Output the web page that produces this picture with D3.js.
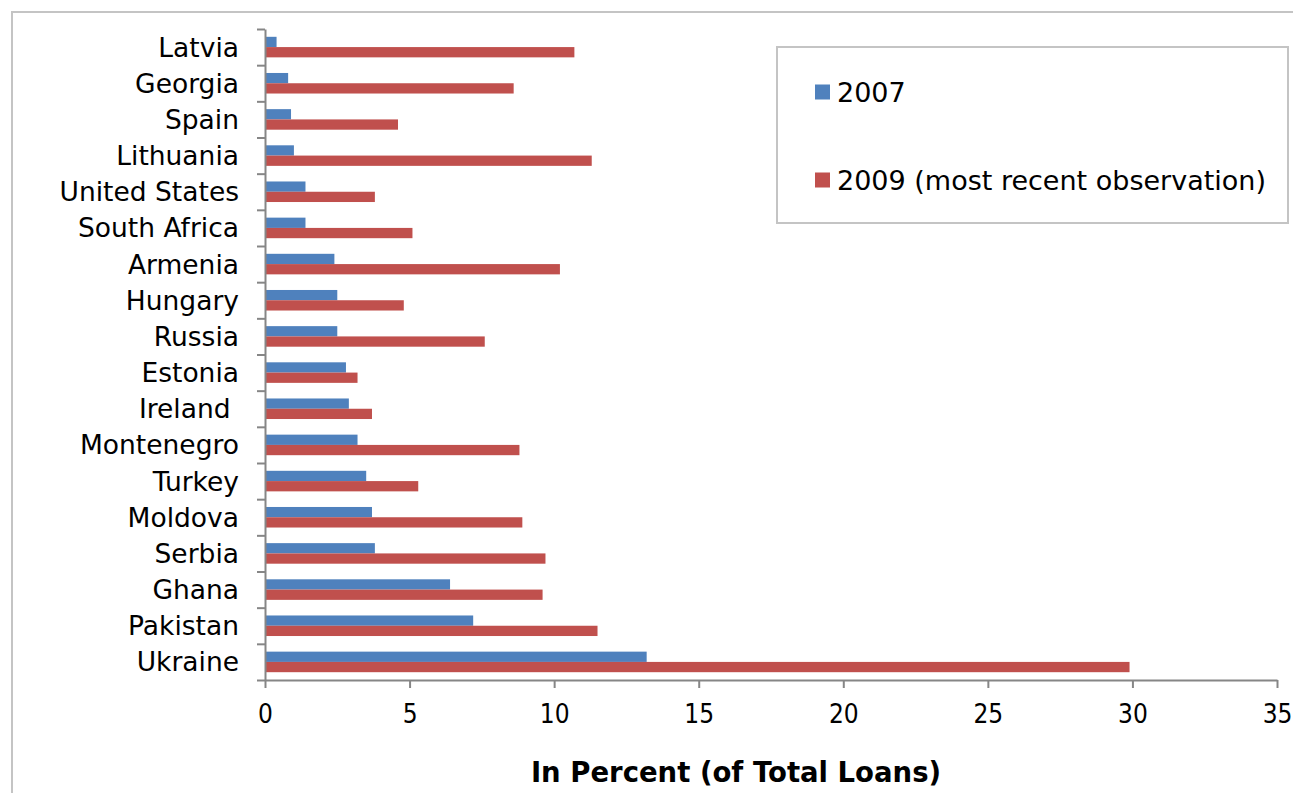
<!DOCTYPE html>
<html>
<head>
<meta charset="utf-8">
<script src="https://cdn.jsdelivr.net/npm/d3@7"></script>
<style>
body { margin: 0; background: #fff; }
svg { display: block; font-family: "DejaVu Sans", Verdana, sans-serif; }
.axis path, .axis line { stroke: #868686; stroke-width: 2px; }
.xaxis text { font-family: "DejaVu Sans Condensed", "DejaVu Sans", sans-serif; font-size: 26px; fill: #000; }
.cat { font-size: 26.5px; fill: #000; }
.legend text { font-size: 27px; fill: #000; }
.title { font-size: 27.5px; font-weight: bold; fill: #000; }
</style>
</head>
<body>
<svg width="1293" height="793"></svg>
<script>

var countries = ["Latvia", "Georgia", "Spain", "Lithuania", "United States", "South Africa",
	"Armenia", "Hungary", "Russia", "Estonia", "Ireland ", "Montenegro", "Turkey",
	"Moldova", "Serbia", "Ghana", "Pakistan", "Ukraine"];
var values2007 = [0.4, 0.8, 0.9, 1.0, 1.4, 1.4, 2.4, 2.5, 2.5, 2.8, 2.9, 3.2, 3.5, 3.7, 3.8, 6.4, 7.2, 13.2];
var values2009 = [10.7, 8.6, 4.6, 11.3, 3.8, 5.1, 10.2, 4.8, 7.6, 3.2, 3.7, 8.8, 5.3, 8.9, 9.7, 9.6, 11.5, 29.9];
var seriesNames = ["2007", "2009 (most recent observation)"];
var seriesColors = ["#4f81bd", "#c0504d"];
var xTicks = [0, 5, 10, 15, 20, 25, 30, 35];

var svg = d3.select("svg");

var plotLeft = 265, plotRight = 1277, plotTop = 29, plotBottom = 680;

// outer chart border
svg.append("rect")
	.attr("x", 12).attr("y", 12)
	.attr("width", 1320).attr("height", 820)
	.attr("fill", "none")
	.attr("stroke", "#c4c4c4")
	.attr("stroke-width", 2);

var x = d3.scaleLinear().domain([0, 35]).range([plotLeft, plotRight]);

var y0 = d3.scaleBand().domain(countries).range([plotTop, plotBottom]).padding(0);
var y1 = d3.scaleBand().domain(seriesNames).range([0, y0.bandwidth()]).paddingInner(0).paddingOuter(0.76);

var rows = countries.map(function(c, i) {
	return {name: c, vals: [values2007[i], values2009[i]]};
});

var g = svg.append("g").attr("class", "bars");
var rowG = g.selectAll("g")
	.data(rows)
	.enter().append("g")
	.attr("transform", function(d) { return "translate(0," + y0(d.name) + ")"; });

rowG.selectAll("rect")
	.data(function(d) { return d.vals.map(function(v, k) { return {s: seriesNames[k], v: v, k: k}; }); })
	.enter().append("rect")
	.attr("x", x(0))
	.attr("y", function(d) { return y1(d.s); })
	.attr("width", function(d) { return x(d.v) - x(0); })
	.attr("height", y1.bandwidth())
	.attr("fill", function(d) { return seriesColors[d.k]; });

// y axis with ticks between categories
var yIdx = d3.scaleLinear().domain([0, countries.length]).range([plotTop, plotBottom]);
svg.append("g")
	.attr("class", "axis yaxis")
	.attr("transform", "translate(" + plotLeft + ",0)")
	.call(d3.axisLeft(yIdx).tickValues(d3.range(countries.length + 1)).tickSize(8).tickSizeOuter(0).tickFormat(""));

svg.append("g").selectAll("text")
	.data(countries)
	.enter().append("text")
	.attr("class", "cat")
	.attr("x", 239)
	.attr("y", function(d) { return y0(d) + y0.bandwidth() / 2; })
	.attr("dy", "0.36em")
	.attr("text-anchor", "end")
	.style("white-space", "pre")
	.text(function(d) { return d; });

var xAxis = svg.append("g")
	.attr("class", "axis xaxis")
	.attr("transform", "translate(0," + plotBottom + ")")
	.call(d3.axisBottom(x).tickValues(xTicks).tickSize(8).tickSizeOuter(0).tickPadding(17));
xAxis.attr("font-family", null).attr("font-size", null);

svg.append("text")
	.attr("class", "title")
	.attr("x", 736)
	.attr("y", 782)
	.attr("text-anchor", "middle")
	.text("In Percent (of Total Loans)");

// legend
var legend = svg.append("g").attr("class", "legend");
legend.append("rect")
	.attr("x", 777).attr("y", 47)
	.attr("width", 511).attr("height", 176)
	.attr("fill", "#fff")
	.attr("stroke", "#c4c4c4")
	.attr("stroke-width", 2);

var legendY = d3.scalePoint().domain(seriesNames).range([92, 180]);
var item = legend.selectAll("g.item")
	.data(seriesNames)
	.enter().append("g")
	.attr("class", "item")
	.attr("transform", function(d) { return "translate(815," + legendY(d) + ")"; });
item.append("rect")
	.attr("x", 0).attr("y", -7.5)
	.attr("width", 15).attr("height", 15)
	.attr("fill", function(d, i) { return seriesColors[i]; });
item.append("text")
	.attr("x", 22)
	.attr("dy", "0.37em")
	.text(function(d) { return d; });

</script>
</body>
</html>
